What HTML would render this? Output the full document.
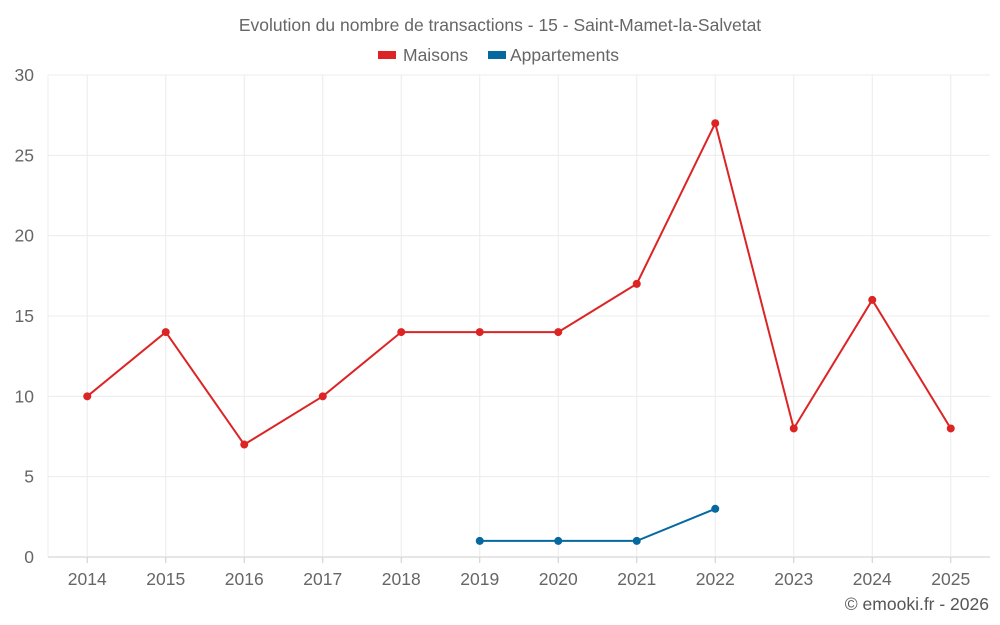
<!DOCTYPE html>
<html><head><meta charset="utf-8"><style>
html,body{margin:0;padding:0;background:#fff;}
svg{display:block;font-family:"Liberation Sans",sans-serif;}
</style></head><body>
<svg id="chart" width="1000" height="625">
<text x="500" y="31" text-anchor="middle" font-size="17.5" fill="#666">Evolution du nombre de transactions - 15 - Saint-Mamet-la-Salvetat</text>
<g>
<g><rect x="378" y="51" width="18" height="8" fill="#dd2424"/><text x="403" y="61" font-size="17.5" fill="#666">Maisons</text></g>
<g><rect x="488" y="51" width="18" height="8" fill="#05699f"/><text x="510" y="61" font-size="17.5" fill="#666">Appartements</text></g>
</g>
<g id="grid"></g><g id="axes"></g><g id="series"></g>
<text x="989" y="610" text-anchor="end" font-size="17.5" fill="#555">© emooki.fr - 2026</text>
</svg>
<script>
const categories=["2014","2015","2016","2017","2018","2019","2020","2021","2022","2023","2024","2025"];
const maisons=[10,14,7,10,14,14,14,17,27,8,16,8];
const appartements=[null,null,null,null,null,1,1,1,3,null,null,null];
const yTicks=[0,5,10,15,20,25,30];
const L=48,R=990,T=75,B=557,yMax=30;
const NS="http://www.w3.org/2000/svg";
const bw=(R-L)/categories.length;
function x(i){return L+bw*(i+0.5);}
function y(v){return B-(v/yMax)*(B-T);}
function mk(tag,attrs,parent){const e=document.createElementNS(NS,tag);for(const k in attrs)e.setAttribute(k,attrs[k]);document.getElementById(parent).appendChild(e);return e;}
yTicks.forEach(t=>{
 const g=mk('line',{x1:L,x2:R,y1:y(t),y2:y(t),stroke:t===0?'#ccc':'#ececec','stroke-width':1},'grid');
 
 
 const tx=mk('text',{x:34,y:y(t)+6,'text-anchor':'end','font-size':17.5,fill:'#666'},'axes');
 tx.textContent=t;
 
 
});
const lb=mk('line',{x1:L,x2:L,y1:T,y2:B,stroke:'#ececec'},'grid');


categories.forEach((c,i)=>{
 const g=mk('line',{x1:x(i),x2:x(i),y1:T,y2:B,stroke:'#ececec'},'grid');
 
 
 const tk=mk('line',{x1:x(i),x2:x(i),y1:B,y2:B+6,stroke:'#ccc'},'axes');
 
 
 const tx=mk('text',{x:x(i),y:585,'text-anchor':'middle','font-size':17.5,fill:'#666'},'axes');
 tx.textContent=c;
 
 
});
function draw(data,color,name){
 let d='',pen=false;
 data.forEach((v,i)=>{if(v==null){pen=false;return;}d+=(pen?'L':'M')+x(i)+','+y(v)+' ';pen=true;});
 const p=mk('path',{d:d,fill:'none',stroke:color,'stroke-width':2},'series');
 
 
 data.forEach((v,i)=>{if(v==null)return;
  const c=mk('circle',{cx:x(i),cy:y(v),r:4,fill:color},'series');
  
  
 });
}
draw(maisons,'#dd2424','maisons');
draw(appartements,'#05699f','appartements');
</script>
</body></html>
